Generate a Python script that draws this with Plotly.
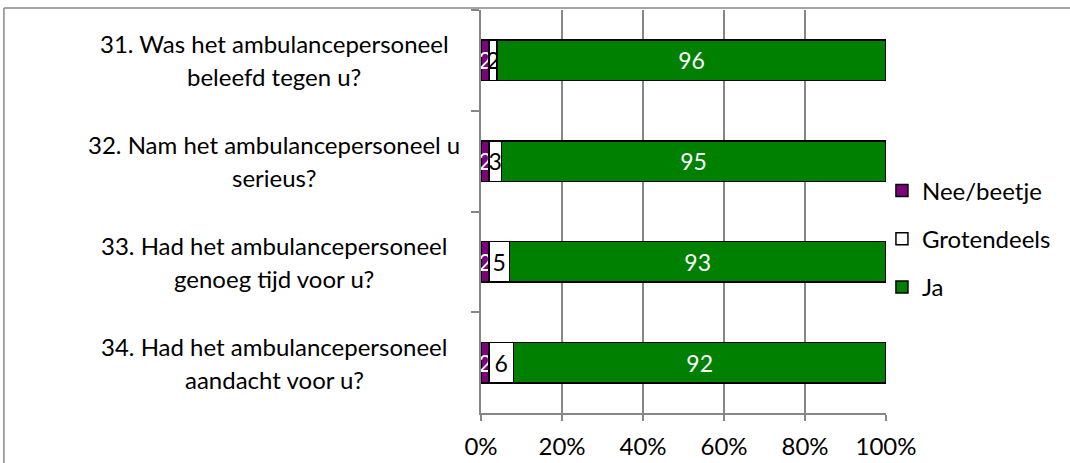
import plotly.graph_objects as go

label_line1 = ["31. Was het ambulancepersoneel", "32. Nam het ambulancepersoneel u",
               "33. Had het ambulancepersoneel", "34. Had het ambulancepersoneel"]
label_line2 = ["beleefd tegen u?", "serieus?", "genoeg tijd voor u?", "aandacht voor u?"]
categories = [a + " " + b for a, b in zip(label_line1, label_line2)]
nee = [2, 2, 2, 2]
groten = [2, 3, 5, 6]
ja = [96, 95, 93, 92]
series_names = ["Nee/beetje", "Grotendeels", "Ja"]
tick_vals = [0, 20, 40, 60, 80, 100]
tick_text = ["0%", "20%", "40%", "60%", "80%", "100%"]

FONT = "Lato"
FS = 24
GRAY = "#868686"

fig = go.Figure()
for name, vals, color, tcolor in [
    (series_names[0], nee, "#7F007F", "white"),
    (series_names[1], groten, "white", "black"),
    (series_names[2], ja, "#008000", "white"),
]:
    fig.add_trace(go.Bar(
        y=categories, x=vals, name=name, orientation="h",
        marker=dict(color=color, line=dict(color="black", width=1.5)),
        text=[str(v) for v in vals], textposition="inside",
        insidetextanchor="middle", constraintext="none",
        textfont=dict(family=FONT, size=FS - 1, color=tcolor),
        legendgroup=name, cliponaxis=False,
    ))

for c, l1, l2 in zip(categories, label_line1, label_line2):
    fig.add_annotation(x=-0.511, xref="paper", y=c, yref="y", text=l1,
                       showarrow=False, xanchor="center", yanchor="middle",
                       yshift=16.5, font=dict(family=FONT, size=FS, color="black"))
    fig.add_annotation(x=-0.511, xref="paper", y=c, yref="y", text=l2,
                       showarrow=False, xanchor="center", yanchor="middle",
                       yshift=-16.5, font=dict(family=FONT, size=FS, color="black"))

# outer chart border
fig.add_shape(type="line", xref="paper", yref="paper", x0=-1.178, x1=1.5, y0=1.005, y1=1.005,
              line=dict(color=GRAY, width=1.5))
fig.add_shape(type="line", xref="paper", yref="paper", x0=-1.178, x1=-1.178, y0=1.005, y1=-0.2,
              line=dict(color=GRAY, width=1.5))

fig.update_layout(
    width=1070, height=463,
    barmode="stack", bargap=0.6,
    paper_bgcolor="white", plot_bgcolor="white",
    margin=dict(l=481, r=184, t=10, b=50, autoexpand=False),
    font=dict(family=FONT, size=FS, color="black"),
    legend=dict(x=0.99, xanchor="left", y=0.432, yanchor="middle",
                traceorder="grouped", tracegroupgap=14,
                font=dict(family=FONT, size=FS, color="black"),
                itemwidth=30, bgcolor="rgba(0,0,0,0)"),
    xaxis=dict(range=[0, 100], tickvals=tick_vals, ticktext=tick_text,
               showgrid=True, gridcolor=GRAY, gridwidth=1.5,
               showline=True, linecolor=GRAY, linewidth=1.5,
               ticks="outside", ticklen=6, tickcolor=GRAY, tickwidth=1.5,
               ticklabelstandoff=5, zeroline=False, fixedrange=True,
               automargin=False),
    yaxis=dict(type="category", categoryorder="array", categoryarray=categories,
               autorange="reversed",
               showticklabels=False, showline=True, linecolor=GRAY, linewidth=1.5,
               ticks="outside", ticklen=8, tickcolor=GRAY, tickwidth=1.5,
               tickson="boundaries", showgrid=False, fixedrange=True,
               automargin=False),
)

fig.write_html("out.html", config={"displayModeBar": False},
               post_script="document.body.style.margin='0';document.body.style.overflow='hidden';")
